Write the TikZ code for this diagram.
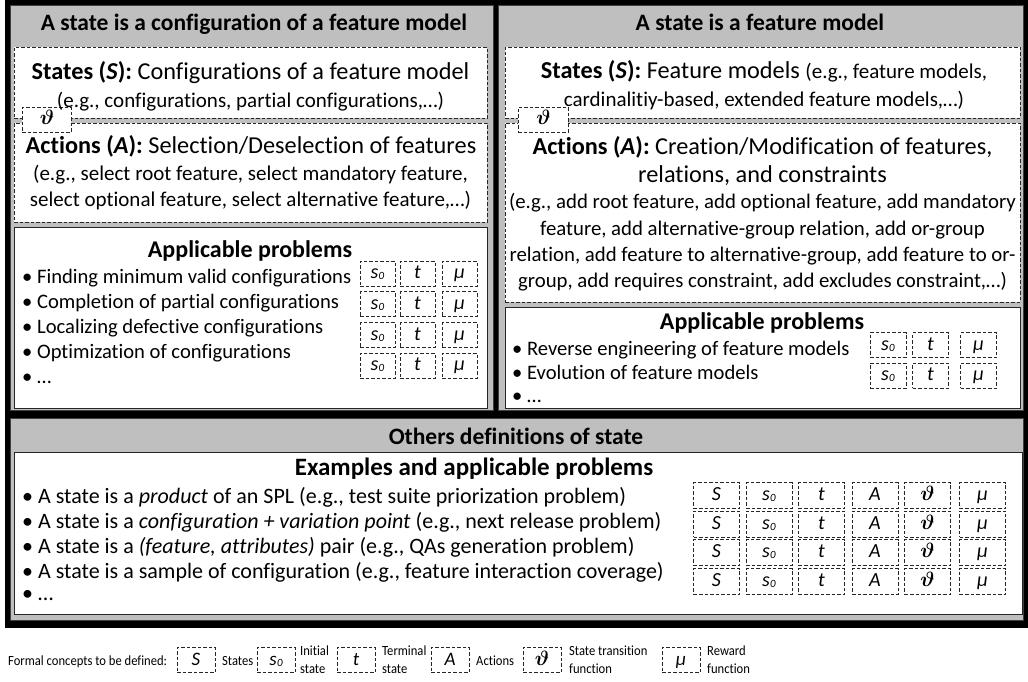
\documentclass[tikz,border=0pt]{standalone}
\usepackage{fontspec}
\setmainfont{Carlito}[Ligatures=NoCommon]
\definecolor{panelgray}{HTML}{BFBFBF}
\definecolor{edgegray}{HTML}{404040}
\newcommand{\symS}{\textit{S}}
\newcommand{\symSz}{\textit{s}\kern0.3pt\raisebox{-1pt}{\fontsize{11}{11}\selectfont\textit{0}}}
\newcommand{\symT}{\textit{t}}
\newcommand{\symA}{\textit{A}}
\newcommand{\symTh}{{\fontsize{22}{22}\selectfont\boldmath$\vartheta$}}
\newcommand{\symMu}{\textit{μ}}
\begin{document}
\begin{tikzpicture}[x=1pt,y=-1pt,
  panel/.style={fill=panelgray, draw=edgegray, line width=0.8pt},
  dbox/.style={draw=black!85, fill=white, line width=0.9pt, dash pattern=on 3.5pt off 2pt, inner sep=0pt, anchor=north west},
  sbox/.style={draw=black!85, fill=white, line width=1pt, inner sep=0pt, anchor=north west},
  cell/.style={draw=black!85, fill=white, line width=0.9pt, dash pattern=on 3.5pt off 2pt, minimum width=35pt, minimum height=25pt, inner sep=0pt, text height=13pt, text depth=3pt, font=\fontsize{20}{20}\selectfont},
  bcell/.style={cell, minimum width=46pt, minimum height=26pt},
  lcell/.style={cell, minimum width=38pt, minimum height=25pt, font=\fontsize{19}{19}\selectfont},
  ttl/.style={font=\fontsize{23.5}{26}\selectfont\bfseries, anchor=base, inner sep=0pt},
  ptl/.style={font=\fontsize{24}{26}\selectfont\bfseries, anchor=base, inner sep=0pt},
  head/.style={font=\fontsize{24.3}{28}\selectfont, anchor=base, inner sep=0pt},
  eg/.style={font=\fontsize{21}{24}\selectfont, anchor=base, inner sep=0pt},
  bul/.style={font=\fontsize{20.6}{22}\selectfont, anchor=base west, inner sep=0pt},
  bbul/.style={font=\fontsize{22}{24}\selectfont, anchor=base west, inner sep=0pt},
  leg/.style={font=\fontsize{14}{15}\selectfont, anchor=base west, inner sep=0pt}
]
\useasboundingbox (0,0) rectangle (1028,681);
% frame
\fill[black] (5,0) rectangle (1028,628);
\node[panel, anchor=north west, minimum width=483pt, minimum height=405pt, inner sep=0pt] (pl) at (10,5) {};
\node[panel, anchor=north west, minimum width=525pt, minimum height=405pt, inner sep=0pt] (pr) at (498,5) {};
\node[panel, anchor=north west, minimum width=1013pt, minimum height=202pt, inner sep=0pt] (pb) at (10,418) {};

% ---------------- left panel
\node[ttl] (tl) at (254,30) {A state is a configuration of a feature model};
\node[dbox, minimum width=473pt, minimum height=71pt] (lS) at (14,47) {};
\node[dbox, minimum width=473pt, minimum height=99pt] (lA) at (14,123) {};
\node[dbox, minimum width=49pt, minimum height=25pt] (lth) at (22,107) {};
\node[font=\fontsize{20}{20}\selectfont, inner sep=0pt, text height=13pt, text depth=3pt] at (lth.center) {\symTh};
\node[head] (lS1) at (250.5,79) {\textbf{States (\textit{S}):} Configurations of a feature model};
\node[eg] (lS2) at (250.5,107) {(e.g., configurations, partial configurations,…)};
\node[head] (lA1) at (251,153) {\textbf{Actions (\textit{A}):} Selection/Deselection of features};
\node[eg] (lA2) at (250.5,180) {(e.g., select root feature, select mandatory feature,};
\node[eg] (lA3) at (250.5,206) {select optional feature, select alternative feature,…)};

\node[sbox, minimum width=473pt, minimum height=181pt] (lP) at (14,227) {};
\node[ptl] (lPt) at (250,257) {Applicable problems};
\node[bul] (lb1) at (22,283) {• Finding minimum valid configurations};
\node[bul] (lb2) at (22,308) {• Completion of partial configurations};
\node[bul] (lb3) at (22,333) {• Localizing defective configurations};
\node[bul] (lb4) at (22,358) {• Optimization of configurations};
\node[bul] (lb5) at (22,383) {• …};
\foreach \r/\y in {1/273.5,2/304,3/335,4/365.5}{
  \node[cell] (lc\r a) at (377.5,\y) {\symSz};
  \node[cell] (lc\r b) at (417.5,\y) {\symT};
  \node[cell] (lc\r c) at (459.5,\y) {\symMu};
}

% ---------------- right panel
\node[ttl] (tr) at (760,30) {A state is a feature model};
\node[dbox, minimum width=515pt, minimum height=71pt] (rS) at (505,47) {};
\node[dbox, minimum width=515pt, minimum height=179pt] (rA) at (505,123) {};
\node[dbox, minimum width=50pt, minimum height=25pt] (rth) at (518,107) {};
\node[font=\fontsize{20}{20}\selectfont, inner sep=0pt, text height=13pt, text depth=3pt] at (rth.center) {\symTh};
\node[head] (rS1) at (764,78) {\textbf{States (\textit{S}):} Feature models {\fontsize{21}{24}\selectfont (e.g., feature models,}};
\node[eg] (rS2) at (764,106) {cardinalitiy-based, extended feature models,…)};
\node[head] (rA1) at (762.5,154) {\textbf{Actions (\textit{A}):} Creation/Modification of features,};
\node[head] (rA2) at (762.5,182) {relations, and constraints};
\node[eg, font=\fontsize{20.8}{24}\selectfont] (rA3) at (762.5,208) {(e.g., add root feature, add optional feature, add mandatory};
\node[eg, font=\fontsize{20.8}{24}\selectfont] (rA4) at (762.5,235) {feature, add alternative-group relation, add or-group};
\node[eg, font=\fontsize{20.8}{24}\selectfont] (rA5) at (762.5,261) {relation, add feature to alternative-group, add feature to or-};
\node[eg, font=\fontsize{20.8}{24}\selectfont] (rA6) at (762.5,287) {group, add requires constraint, add excludes constraint,…)};

\node[sbox, minimum width=515pt, minimum height=101pt] (rP) at (505,307) {};
\node[ptl] (rPt) at (762,329) {Applicable problems};
\node[bul] (rb1) at (512,355) {• Reverse engineering of feature models};
\node[bul] (rb2) at (512,379) {• Evolution of feature models};
\node[bul] (rb3) at (512,402) {• …};
\foreach \r/\y in {1/345,2/375.5}{
  \node[cell, minimum width=36pt] (rc\r a) at (888,\y) {\symSz};
  \node[cell, minimum width=36pt] (rc\r b) at (930.5,\y) {\symT};
  \node[cell, minimum width=36pt] (rc\r c) at (978.5,\y) {\symMu};
}

% ---------------- bottom panel
\node[ttl] (tb) at (516,444) {Others definitions of state};
\node[sbox, minimum width=1008pt, minimum height=162pt] (bP) at (14,452) {};
\node[ptl, font=\fontsize{25}{27}\selectfont\bfseries] (bPt) at (474,475) {Examples and applicable problems};
\node[bbul] (bb1) at (22,503) {• A state is a \textit{product} of an SPL (e.g., test suite priorization problem)};
\node[bbul] (bb2) at (22,528) {• A state is a \textit{configuration + variation point} (e.g., next release problem)};
\node[bbul] (bb3) at (22,553) {• A state is a \textit{(feature, attributes)} pair (e.g., QAs generation problem)};
\node[bbul] (bb4) at (22,578) {• A state is a sample of configuration (e.g., feature interaction coverage)};
\node[bbul] (bb5) at (22,600) {• …};
\foreach \r/\y in {1/495.5,2/524,3/552.5,4/581.5}{
  \node[bcell] (bc\r a) at (716.5,\y) {\symS};
  \node[bcell] (bc\r b) at (769,\y) {\symSz};
  \node[bcell] (bc\r c) at (821.5,\y) {\symT};
  \node[bcell] (bc\r d) at (875,\y) {\symA};
  \node[bcell] (bc\r e) at (927.5,\y) {\symTh};
  \node[bcell] (bc\r f) at (982.5,\y) {\symMu};
}

% ---------------- legend
\node[leg] (lg0) at (8,665) {\scalebox{0.9}[1]{Formal concepts to be defined:}};
\node[lcell] (lgS) at (196,660) {\symS};
\node[leg] (lgSt) at (222,665) {\scalebox{0.9}[1]{States}};
\node[lcell] (lgSz) at (276,660) {\symSz};
\node[leg] (lgSza) at (300,655) {\scalebox{0.9}[1]{Initial}};
\node[leg] (lgSzb) at (300,673) {\scalebox{0.9}[1]{state}};
\node[lcell] (lgT) at (356,660) {\symT};
\node[leg] (lgTa) at (382,655) {\scalebox{0.9}[1]{Terminal}};
\node[leg] (lgTb) at (382,673) {\scalebox{0.9}[1]{state}};
\node[lcell] (lgA) at (450,660) {\symA};
\node[leg] (lgAt) at (476,665) {\scalebox{0.9}[1]{Actions}};
\node[lcell] (lgTh) at (542,660) {\symTh};
\node[leg] (lgTha) at (569,655) {\scalebox{0.9}[1]{State transition}};
\node[leg] (lgThb) at (569,673) {\scalebox{0.9}[1]{function}};
\node[lcell] (lgMu) at (681,660) {\symMu};
\node[leg] (lgMua) at (707,655) {\scalebox{0.9}[1]{Reward}};
\node[leg] (lgMub) at (707,673) {\scalebox{0.9}[1]{function}};
\end{tikzpicture}
\end{document}
